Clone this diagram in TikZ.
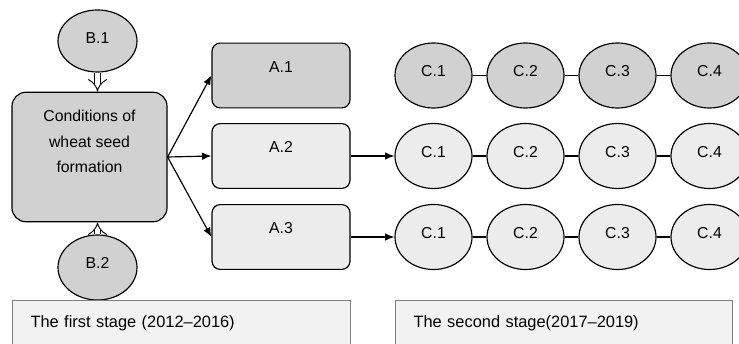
\documentclass[tikz,border=0pt]{standalone}
\usepackage{fontspec}
\setmainfont{Liberation Sans}
\usetikzlibrary{shapes.geometric,arrows.meta}

\definecolor{darkfill}{gray}{0.82}
\definecolor{lightfill}{gray}{0.925}
\definecolor{stagefill}{gray}{0.95}

\tikzset{
  condbox/.style={draw, line width=1pt, rounded corners=12pt, fill=darkfill, align=center,
    inner sep=0pt, minimum width=4.65cm, text height=68.9pt, text depth=41.7pt,
    font=\fontsize{13.5}{22}\selectfont},
  abox/.style={draw, line width=1pt, rounded corners=7pt, inner sep=0pt, minimum width=4.14cm,
    text height=24.7pt, text depth=30.6pt, font=\fontsize{13.5}{16}\selectfont},
  bell/.style={draw, line width=1pt, ellipse, fill=darkfill, inner sep=0pt, minimum width=2.37cm,
    text height=10pt, text depth=8pt, font=\fontsize{13.5}{16}\selectfont},
  cell/.style={draw, line width=1pt, ellipse, inner sep=0pt, minimum width=2.31cm,
    minimum height=1.95cm, text height=10pt, text depth=8pt,
    font=\fontsize{13.5}{16}\selectfont},
  stagebox/.style={draw=gray, line width=1pt, fill=stagefill, anchor=north west, align=left,
    inner xsep=15.3pt, inner ysep=0pt, text height=23pt, text depth=28pt,
    font=\fontsize{14}{17}\selectfont},
  hollow/.style={line width=0.8pt, double, double distance=5pt,
    -{Implies[length=4pt, width=12pt]}},
  link/.style={line width=1pt, -{Latex[length=8pt, width=6.5pt]}},
}

\begin{document}
\begin{tikzpicture}[x=0.03cm, y=-0.03cm]

%% Fixed frame of the picture
\useasboundingbox (0,0) rectangle (739,344);

%% First stage
\node[condbox] (cond) at (89.5,157) {Conditions of\\wheat seed\\formation};
\node[bell, minimum height=1.86cm, text depth=6pt] (B1) at (97.5,41) {B.1};
\node[bell, minimum height=1.95cm] (B2) at (97.5,267.5) {B.2};

\draw[hollow] (B1.south) -- (B1.south |- cond.north);
\draw[hollow] (B2.north) -- (B2.north |- cond.south);

\node[abox, fill=darkfill] (A1) at (281,75.5) {A.1};
\node[abox, fill=lightfill] (A2) at (281,156) {A.2};
\node[abox, fill=lightfill] (A3) at (281,237) {A.3};

\draw[link] (cond.east) -- (A1.west);
\draw[link] (cond.east) -- (A2.west);
\draw[link] (cond.east) -- (A3.west);

%% Second stage, first row
\node[cell, fill=darkfill] (C11) at (433.5,75.5) {C.1};
\node[cell, fill=darkfill] (C12) at (525.5,75.5) {C.2};
\node[cell, fill=darkfill] (C13) at (617.5,75.5) {C.3};
\node[cell, fill=darkfill] (C14) at (709.5,75.5) {C.4};
\draw[line width=1pt] (C11.east) -- (C12.west);
\draw[line width=1pt] (C12.east) -- (C13.west);
\draw[line width=1pt] (C13.east) -- (C14.west);

%% Second row
\node[cell, fill=lightfill] (C21) at (433.5,156) {C.1};
\node[cell, fill=lightfill] (C22) at (525.5,156) {C.2};
\node[cell, fill=lightfill] (C23) at (617.5,156) {C.3};
\node[cell, fill=lightfill] (C24) at (709.5,156) {C.4};
\draw[line width=1pt] (C21.east) -- (C22.west);
\draw[line width=1pt] (C22.east) -- (C23.west);
\draw[line width=1pt] (C23.east) -- (C24.west);

%% Third row
\node[cell, fill=lightfill] (C31) at (433.5,237) {C.1};
\node[cell, fill=lightfill] (C32) at (525.5,237) {C.2};
\node[cell, fill=lightfill] (C33) at (617.5,237) {C.3};
\node[cell, fill=lightfill] (C34) at (709.5,237) {C.4};
\draw[line width=1pt] (C31.east) -- (C32.west);
\draw[line width=1pt] (C32.east) -- (C33.west);
\draw[line width=1pt] (C33.east) -- (C34.west);

\draw[link] (A2.east) -- (C21.west);
\draw[link] (A3.east) -- (C31.west);

%% Stage labels
\node[stagebox, text width=9.06cm] (stage1) at (12,300) {The first stage (2012--2016)};
\node[stagebox, text width=9.03cm] (stage2) at (395,300) {The second stage(2017--2019)};

\end{tikzpicture}
\end{document}
